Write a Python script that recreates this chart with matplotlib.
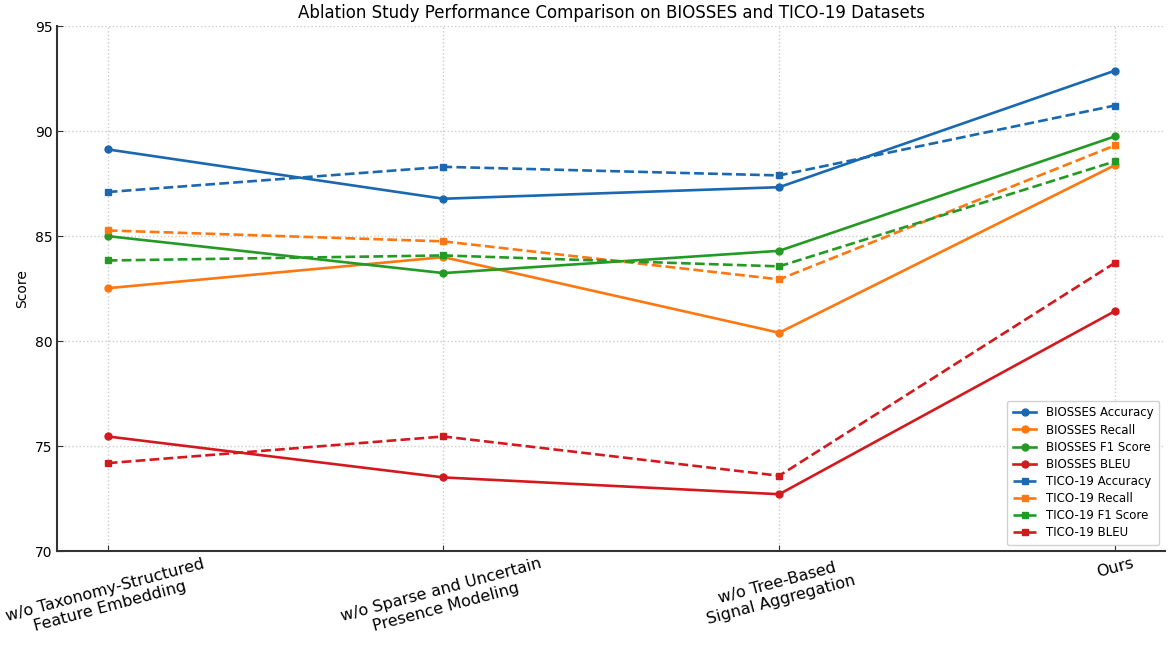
import matplotlib
matplotlib.use("Agg")
import matplotlib.pyplot as plt

categories = [
    "w/o Taxonomy-Structured\nFeature Embedding",
    "w/o Sparse and Uncertain\nPresence Modeling",
    "w/o Tree-Based\nSignal Aggregation",
    "Ours",
]

biosses_accuracy = [89.13, 86.78, 87.33, 92.88]
biosses_recall = [82.52, 84.00, 80.40, 88.38]
biosses_f1 = [85.00, 83.24, 84.30, 89.75]
biosses_bleu = [75.46, 73.51, 72.71, 81.43]

tico_accuracy = [87.10, 88.30, 87.89, 91.22]
tico_recall = [85.27, 84.75, 82.94, 89.32]
tico_f1 = [83.84, 84.08, 83.56, 88.56]
tico_bleu = [74.19, 75.46, 73.59, 83.73]

metric_names = ["Accuracy", "Recall", "F1 Score", "BLEU"]
colors = ["#1a68b0", "#ff7710", "#249a24", "#d4191e"]

fig = plt.figure(figsize=(11.7, 6.53), dpi=100)
ax = fig.add_axes([0.049, 0.156, 0.947, 0.804])

x = list(range(len(categories)))
for name, vals, c in zip(metric_names,
                         [biosses_accuracy, biosses_recall, biosses_f1, biosses_bleu],
                         colors):
    ax.plot(x, vals, "-o", color=c, lw=1.9, ms=5, label=f"BIOSSES {name}")
for name, vals, c in zip(metric_names,
                         [tico_accuracy, tico_recall, tico_f1, tico_bleu],
                         colors):
    ax.plot(x, vals, "--s", color=c, lw=1.9, ms=5, label=f"TICO-19 {name}")

ax.set_ylim(70, 95)
ax.set_yticks([70, 75, 80, 85, 90, 95])
ax.set_xticks(x)
ax.set_xticklabels(categories, rotation=15, ha="center", fontsize=11.5)
ax.tick_params(axis="y", labelsize=10)
ax.tick_params(direction="in", color="#333333", length=4)
ax.set_ylabel("Score", fontsize=10)
ax.set_title("Ablation Study Performance Comparison on BIOSSES and TICO-19 Datasets",
             fontsize=12)

ax.grid(True, linestyle=":", color="#cccccc", linewidth=1)
for side in ["top", "right"]:
    ax.spines[side].set_visible(False)
for side in ["left", "bottom"]:
    ax.spines[side].set_color("#333333")
    ax.spines[side].set_linewidth(1.5)

ax.legend(loc="lower right", fontsize=8.5, framealpha=0.9, borderpad=0.5,
          labelspacing=0.35)

fig.savefig("out.png", dpi=100)
